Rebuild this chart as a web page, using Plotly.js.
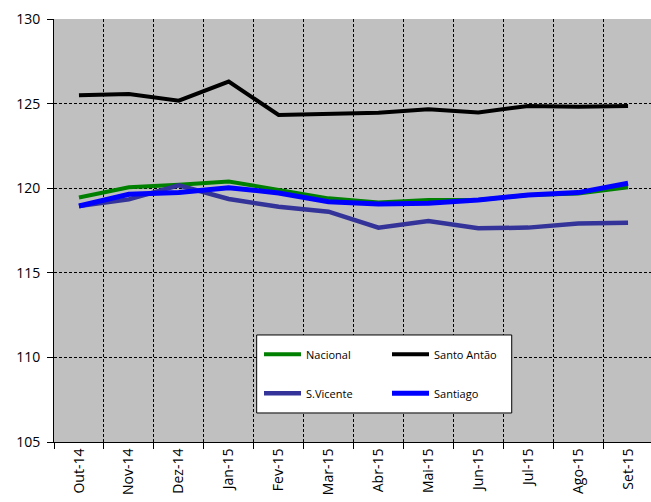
<!DOCTYPE html>
<html>
<head>
<meta charset="utf-8">
<script src="https://cdn.plot.ly/plotly-3.0.1.min.js"></script>
<style>html,body{margin:0;padding:0;background:#fff;}#chart{width:651px;height:502px;}</style>
</head>
<body>
<div id="chart"></div>
<script>
const months = ["Out-14","Nov-14","Dez-14","Jan-15","Fev-15","Mar-15","Abr-15","Mai-15","Jun-15","Jul-15","Ago-15","Set-15"];
const nacional   = [119.45, 120.05, 120.2, 120.4, 119.9, 119.4, 119.15, 119.3, 119.3, 119.6, 119.68, 120.05];
const santoAntao = [125.49, 125.57, 125.17, 126.3, 124.33, 124.37, 124.46, 124.66, 124.48, 124.86, 124.82, 124.86];
const sVicente   = [118.95, 119.34, 120.17, 119.36, 118.9, 118.61, 117.67, 118.06, 117.63, 117.67, 117.92, 117.96];
const santiago   = [118.95, 119.64, 119.74, 120.03, 119.72, 119.2, 119.07, 119.11, 119.3, 119.6, 119.74, 120.29];

const FONT = "Open Sans";
const traces = [
  {x: months, y: nacional, name: "Nacional", type: "scatter", mode: "lines", line: {color: "#008000", width: 4}, legend: "legend"},
  {x: months, y: santoAntao, name: "Santo Antão", type: "scatter", mode: "lines", line: {color: "#000000", width: 4}, legend: "legend2"},
  {x: months, y: sVicente, name: "S.Vicente", type: "scatter", mode: "lines", line: {color: "#333399", width: 4.5}, legend: "legend3"},
  {x: months, y: santiago, name: "Santiago", type: "scatter", mode: "lines", line: {color: "#0000FF", width: 5}, legend: "legend4"}
];

function leg(x, y) {
  return {x: x, y: y, xanchor: "left", yanchor: "middle", xref: "paper", yref: "paper",
          bgcolor: "rgba(0,0,0,0)", borderwidth: 0, itemwidth: 37,
          font: {family: FONT, size: 11, color: "#000"}};
}

const layout = {
  width: 651, height: 502,
  margin: {l: 54, r: 0, t: 19, b: 60, pad: 0},
  paper_bgcolor: "#ffffff",
  plot_bgcolor: "#C0C0C0",
  showlegend: true,
  legend: leg(0.3434, 0.2073),
  legend2: leg(0.5578, 0.2073),
  legend3: leg(0.3434, 0.1151),
  legend4: leg(0.5578, 0.1151),
  xaxis: {
    type: "category", range: [-0.5, 11.46],
    tickson: "boundaries", ticks: "outside", ticklen: 6, tickcolor: "#000", tickwidth: 1,
    showgrid: true, gridcolor: "#000", gridwidth: 1, griddash: "3px,2px",
    showline: true, linecolor: "#000", linewidth: 1,
    tickangle: -90, tickfont: {family: FONT, size: 14, color: "#000"},
    fixedrange: true
  },
  yaxis: {
    range: [105, 130], dtick: 5, tick0: 105,
    ticks: "outside", ticklen: 6, tickcolor: "#000", tickwidth: 1,
    showgrid: true, gridcolor: "#000", gridwidth: 1, griddash: "3px,2px",
    zeroline: false, showline: true, linecolor: "#000", linewidth: 1,
    tickfont: {family: FONT, size: 14, color: "#000"},
    ticklabelstandoff: 4,
    fixedrange: true
  },
  shapes: [
    {type: "rect", xref: "paper", yref: "paper", x0: 0.3395, x1: 0.7667, y0: 0.0686, y1: 0.2530,
     fillcolor: "#ffffff", line: {color: "#000", width: 1}, layer: "above"}
  ]
};

Plotly.newPlot("chart", traces, layout, {displayModeBar: false, staticPlot: true});
</script>
</body>
</html>
